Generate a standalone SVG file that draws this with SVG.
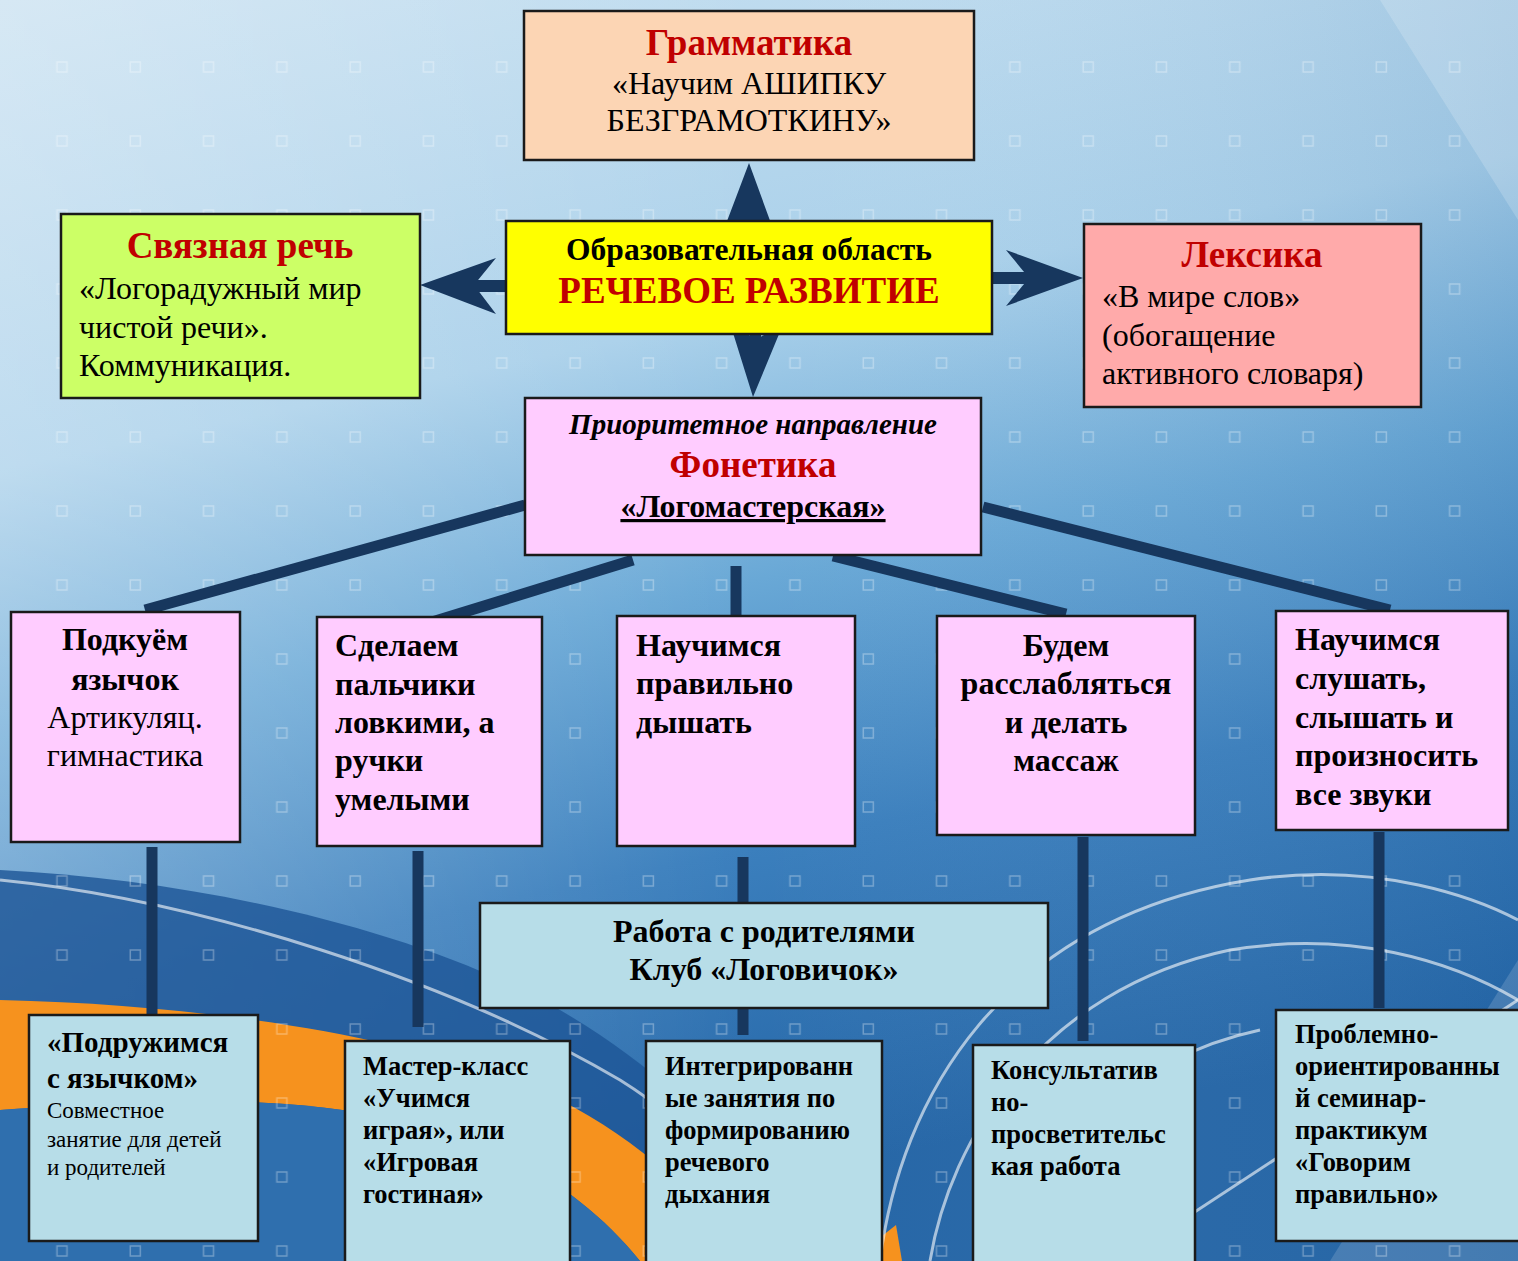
<svg xmlns="http://www.w3.org/2000/svg" width="1518" height="1261" viewBox="0 0 1518 1261">
<defs>
<linearGradient id="bg" x1="0" y1="0" x2="0.25" y2="1">
<stop offset="0" stop-color="#c9e1f1"/>
<stop offset="0.35" stop-color="#a9d0ea"/>
<stop offset="0.55" stop-color="#69a8d6"/>
<stop offset="0.75" stop-color="#3b7fbd"/>
<stop offset="1" stop-color="#2465a6"/>
</linearGradient>
<linearGradient id="bgx" x1="0" y1="0" x2="1" y2="0">
<stop offset="0" stop-color="#ffffff" stop-opacity="0.25"/>
<stop offset="0.5" stop-color="#ffffff" stop-opacity="0"/>
<stop offset="1" stop-color="#1e5a96" stop-opacity="0.12"/>
</linearGradient>
<pattern id="grid" x="27" y="32" width="73.3" height="74" patternUnits="userSpaceOnUse">
<rect x="30" y="30" width="10" height="10" fill="none" stroke="#ffffff" stroke-opacity="0.3" stroke-width="1.5"/>
</pattern>
<style>
.box{stroke:#1a1a1a;stroke-width:2.5}
.pink{fill:#ffccff}
.lb{fill:#b7dde8}
.t{font-family:"Liberation Serif","Times New Roman",serif;fill:#000}
.b{font-weight:bold}
.red{fill:#c00000}
.c{text-anchor:middle}
.m{font-size:32px}
.s{font-size:26.5px}
.conn{stroke:#17375e;stroke-width:11;fill:none}
.arr{fill:#17375e}
</style>
</defs>
<g id="background">
<rect width="1518" height="1261" fill="url(#bg)"/>
<rect width="1518" height="1261" fill="url(#bgx)"/>
<path d="M0,870 C200,880 420,930 560,1010 C680,1080 760,1170 820,1261 L0,1261 Z" fill="#1d5596" opacity="0.8"/>
<path d="M0,1000 C220,1005 430,1040 560,1100 C640,1140 700,1200 760,1261 L640,1261 C590,1200 530,1160 440,1130 C300,1090 150,1100 0,1110 Z" fill="#f6921e"/>
<path d="M0,1110 C150,1100 300,1090 440,1130 C530,1160 590,1200 640,1261 L0,1261 Z" fill="#2f6fae"/>
<path d="M882,1236 L896,1225 L902,1261 L882,1261 Z" fill="#f6921e"/>
<g fill="none" stroke="#ffffff" stroke-opacity="0.6" stroke-width="3">
<path d="M880,1261 C900,1100 1000,920 1250,880 C1380,860 1480,900 1518,920"/>
<path d="M930,1261 C950,1140 1040,990 1230,950 C1350,930 1450,960 1518,1000"/>
<path d="M1000,1261 C1040,1160 1120,1060 1260,1030"/>
<path d="M0,880 C200,900 450,980 620,1080 C700,1130 760,1200 800,1261"/>
<path d="M1120,1261 L1518,1000"/>
</g>
<path d="M1380,0 L1518,0 L1518,220 Z" fill="#ffffff" opacity="0.18"/>
<path d="M1330,1261 L1518,960 L1518,1261 Z" fill="#ffffff" opacity="0.15"/>
<rect width="1518" height="1261" fill="url(#grid)"/>
</g>
<g id="connectors">
<line class="conn" x1="525" y1="505" x2="145" y2="610"/>
<line class="conn" x1="633" y1="560" x2="432" y2="622"/>
<line class="conn" x1="736" y1="566" x2="736" y2="620"/>
<line class="conn" x1="833" y1="556" x2="1066" y2="614"/>
<line class="conn" x1="983" y1="507" x2="1390" y2="610"/>
<line class="conn" x1="152" y1="847" x2="152" y2="1022"/>
<line class="conn" x1="418" y1="851" x2="418" y2="1027"/>
<line class="conn" x1="743" y1="857" x2="743" y2="1035"/>
<line class="conn" x1="1083" y1="837" x2="1083" y2="1041"/>
<line class="conn" x1="1379" y1="832" x2="1379" y2="1008"/>
</g>
<g id="arrows">
<polygon class="arr" points="749,163 776,237 749,222 721,237"/>
<rect class="arr" x="744" y="215" width="11" height="10"/>
<polygon class="arr" points="420,285 496,258 474,285 496,314"/>
<rect class="arr" x="470" y="280" width="38" height="12"/>
<polygon class="arr" points="1083,278 1006,250 1029,278 1006,306"/>
<rect class="arr" x="990" y="272" width="42" height="12"/>
<polygon class="arr" points="753,397 784,322 756,340 729,320"/>
<rect class="arr" x="750" y="332" width="11" height="10"/>
</g>
<g id="grammatika">
<rect class="box" x="524" y="11" width="450" height="149" fill="#fcd5b4"/>
<text class="t b red c" x="749" y="55" font-size="37">Грамматика</text>
<text class="t c" x="749" y="94" font-size="32">«Научим АШИПКУ</text>
<text class="t c" x="749" y="131" font-size="32">БЕЗГРАМОТКИНУ»</text>
</g>
<g id="svyaznaya">
<rect class="box" x="61" y="214" width="359" height="184" fill="#ccff66"/>
<text class="t b red c" x="240" y="258" font-size="37">Связная речь</text>
<text class="t m" x="79" y="299">«Логорадужный мир</text>
<text class="t m" x="79" y="338">чистой речи».</text>
<text class="t m" x="79" y="376">Коммуникация.</text>
</g>
<g id="center">
<rect class="box" x="506" y="221" width="486" height="113" fill="#ffff00"/>
<text class="t b c" x="749" y="260" font-size="31.5">Образовательная область</text>
<text class="t b red c" x="749" y="303" font-size="37">РЕЧЕВОЕ РАЗВИТИЕ</text>
</g>
<g id="leksika">
<rect class="box" x="1084" y="224" width="337" height="183" fill="#ffaaaa"/>
<text class="t b red c" x="1252" y="267" font-size="37">Лексика</text>
<text class="t m" x="1102" y="307">«В мире слов»</text>
<text class="t m" x="1102" y="346">(обогащение</text>
<text class="t m" x="1102" y="384">активного словаря)</text>
</g>
<g id="fonetika">
<rect class="box pink" x="525" y="398" width="456" height="157"/>
<text class="t b c" x="753" y="434" font-size="29" font-style="italic">Приоритетное направление</text>
<text class="t b red c" x="753" y="477" font-size="37">Фонетика</text>
<text class="t b c m" x="753" y="517" text-decoration="underline">«Логомастерская»</text>
</g>
<g id="podkuem">
<rect class="box pink" x="11" y="612" width="229" height="230"/>
<text class="t b c m" x="125" y="650">Подкуём</text>
<text class="t b c m" x="125" y="690">язычок</text>
<text class="t c m" x="125" y="728">Артикуляц.</text>
<text class="t c m" x="125" y="766">гимнастика</text>
</g>
<g id="palchiki">
<rect class="box pink" x="317" y="617" width="225" height="229"/>
<text class="t b m" x="335" y="656">Сделаем</text>
<text class="t b m" x="335" y="695">пальчики</text>
<text class="t b m" x="335" y="733">ловкими, а</text>
<text class="t b m" x="335" y="771">ручки</text>
<text class="t b m" x="335" y="810">умелыми</text>
</g>
<g id="dyshat">
<rect class="box pink" x="617" y="616" width="238" height="230"/>
<text class="t b m" x="636" y="656">Научимся</text>
<text class="t b m" x="636" y="694">правильно</text>
<text class="t b m" x="636" y="733">дышать</text>
</g>
<g id="massazh">
<rect class="box pink" x="937" y="616" width="258" height="219"/>
<text class="t b c m" x="1066" y="656">Будем</text>
<text class="t b c m" x="1066" y="694">расслабляться</text>
<text class="t b c m" x="1066" y="733">и делать</text>
<text class="t b c m" x="1066" y="771">массаж</text>
</g>
<g id="zvuki">
<rect class="box pink" x="1276" y="611" width="232" height="219"/>
<text class="t b m" x="1295" y="650">Научимся</text>
<text class="t b m" x="1295" y="689">слушать,</text>
<text class="t b m" x="1295" y="728">слышать и</text>
<text class="t b m" x="1295" y="766">произносить</text>
<text class="t b m" x="1295" y="805">все звуки</text>
</g>
<g id="roditeli">
<rect class="box lb" x="480" y="903" width="568" height="105"/>
<text class="t b c m" x="764" y="942">Работа с родителями</text>
<text class="t b c m" x="764" y="980">Клуб «Логовичок»</text>
</g>
<g id="podruzhimsya">
<rect class="box lb" x="29" y="1015" width="229" height="226"/>
<text class="t b" x="47" y="1052" font-size="29">«Подружимся</text>
<text class="t b" x="47" y="1088" font-size="29">с язычком»</text>
<text class="t" x="47" y="1118" font-size="23">Совместное</text>
<text class="t" x="47" y="1147" font-size="23">занятие для детей</text>
<text class="t" x="47" y="1175" font-size="23">и родителей</text>
</g>
<g id="masterklass">
<rect class="box lb" x="345" y="1041" width="225" height="230"/>
<text class="t b s" x="363" y="1075">Мастер-класс</text>
<text class="t b s" x="363" y="1107">«Учимся</text>
<text class="t b s" x="363" y="1139">играя», или</text>
<text class="t b s" x="363" y="1171">«Игровая</text>
<text class="t b s" x="363" y="1203">гостиная»</text>
</g>
<g id="integrirovannye">
<rect class="box lb" x="646" y="1041" width="236" height="230"/>
<text class="t b s" x="665" y="1075">Интегрированн</text>
<text class="t b s" x="665" y="1107">ые занятия по</text>
<text class="t b s" x="665" y="1139">формированию</text>
<text class="t b s" x="665" y="1171">речевого</text>
<text class="t b s" x="665" y="1203">дыхания</text>
</g>
<g id="konsultativno">
<rect class="box lb" x="973" y="1045" width="222" height="226"/>
<text class="t b s" x="991" y="1079">Консультатив</text>
<text class="t b s" x="991" y="1111">но-</text>
<text class="t b s" x="991" y="1143">просветительс</text>
<text class="t b s" x="991" y="1175">кая работа</text>
</g>
<g id="seminar">
<rect class="box lb" x="1276" y="1010" width="250" height="231"/>
<text class="t b s" x="1295" y="1043">Проблемно-</text>
<text class="t b s" x="1295" y="1075">ориентированны</text>
<text class="t b s" x="1295" y="1107">й семинар-</text>
<text class="t b s" x="1295" y="1139">практикум</text>
<text class="t b s" x="1295" y="1171">«Говорим</text>
<text class="t b s" x="1295" y="1203">правильно»</text>
</g>
</svg>
